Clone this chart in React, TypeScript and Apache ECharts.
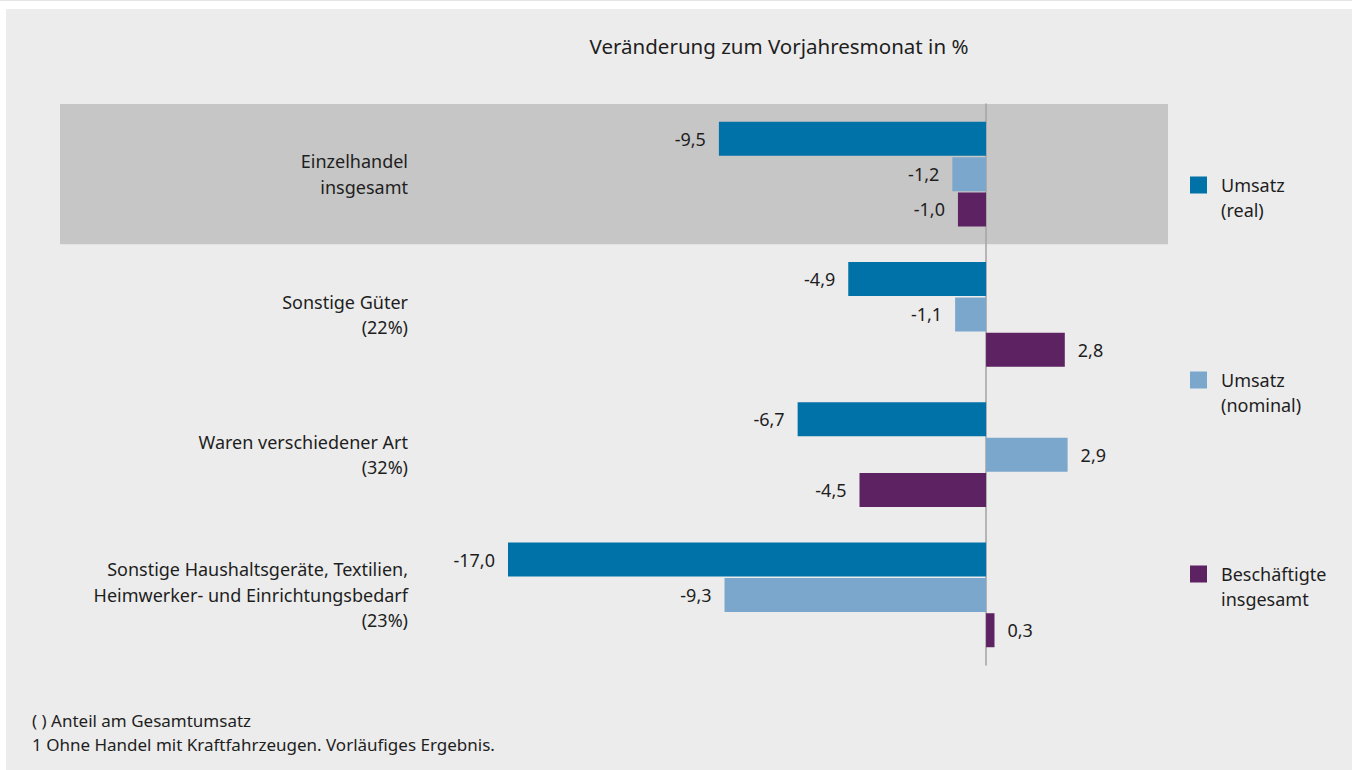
import React, { useEffect, useRef } from "react";
import * as echarts from "echarts";

const categories = [
  "Einzelhandel\ninsgesamt",
  "Sonstige Güter\n(22%)",
  "Waren verschiedener Art\n(32%)",
  "Sonstige Haushaltsgeräte, Textilien,\nHeimwerker- und Einrichtungsbedarf\n(23%)",
];
const seriesNames = ["Umsatz\n(real)", "Umsatz\n(nominal)", "Beschäftigte\ninsgesamt"];
const umsatzReal = [-9.5, -4.9, -6.7, -17.0];
const umsatzNominal = [-1.2, -1.1, 2.9, -9.3];
const beschaeftigte = [-1.0, 2.8, -4.5, 0.3];
const colors = ["#0072a7", "#7ba7cd", "#5d2262"];
const titleText = "Veränderung zum Vorjahresmonat in %";
const footnotes = ["( ) Anteil am Gesamtumsatz", "1 Ohne Handel mit Kraftfahrzeugen. Vorläufiges Ergebnis."];

const FONT = "'Noto Sans', sans-serif";
const TEXT = "#1e1e1e";

export default function App() {
  const ref = useRef<HTMLDivElement>(null);
  useEffect(() => {
    if (!ref.current) return;
    const chart = echarts.init(ref.current, undefined, { renderer: "svg" });
    const values = [umsatzReal, umsatzNominal, beschaeftigte];
    const fmt = (v: number) => v.toFixed(1).replace(".", ",");
    const series = values.map((arr, i) => ({
      name: seriesNames[i],
      type: "bar",
      barWidth: 34,
      barGap: "4%",
      itemStyle: { color: colors[i] },
      data: arr.map((v) => ({
        value: v,
        label: { position: v < 0 ? "left" : "right" },
      })),
      label: {
        show: true,
        distance: 13,
        fontFamily: FONT,
        fontSize: 18,
        color: TEXT,
        formatter: (p: any) => fmt(p.value),
      },
    }));
    const legendTops = [138.5, 333.5, 527.5];
    chart.setOption({
      animation: false,
      backgroundColor: "transparent",
      textStyle: { fontFamily: FONT },
      title: {
        text: titleText,
        left: 768,
        top: 21,
        textAlign: "center",
        textStyle: { fontFamily: FONT, fontSize: 20.5, fontWeight: "normal", color: TEXT },
      },
      legend: seriesNames.map((n, i) => ({
        data: [n],
        orient: "vertical",
        left: 1184,
        top: legendTops[i],
        padding: 0,
        itemWidth: 17,
        itemHeight: 17,
        icon: "rect",
        selectedMode: false,
        formatter: (name: string) => "\n" + name,
        textStyle: {
          fontFamily: FONT,
          fontSize: 18,
          lineHeight: 25,
          color: TEXT,
          padding: [0, 0, 0, 9],
        },
      })),
      grid: { left: 54, right: 184, top: 95, bottom: 105, outerBoundsMode: "none", containLabel: false },
      xAxis: {
        type: "value",
        min: -32.93,
        max: 6.47,
        show: false,
      },
      yAxis: {
        type: "category",
        data: categories,
        inverse: true,
        axisTick: { show: false },
        axisLine: { show: true, onZero: true, lineStyle: { color: "#a3a3a3", width: 1.5 } },
        splitLine: { show: false },
        splitArea: {
          show: true,
          areaStyle: { color: ["#c6c6c6", "rgba(0,0,0,0)", "rgba(0,0,0,0)", "rgba(0,0,0,0)"] },
        },
        axisLabel: {
          margin: -348,
          fontFamily: FONT,
          fontSize: 18,
          lineHeight: 25.5,
          color: TEXT,
          align: "right",
        },
      },
      graphic: footnotes.map((t, i) => ({
        type: "text",
        left: 26,
        top: 703 + i * 24,
        style: { text: t, fontFamily: FONT, fontSize: 17, fill: TEXT },
      })),
      series,
    });
    return () => chart.dispose();
  }, []);
  return (
    <div style={{ position: "fixed", left: 0, top: 0, width: 1352, height: 770, background: "#ffffff" }}>
      <div style={{ position: "absolute", left: 0, top: 0, width: 1352, height: 1, background: "#e4e4e4" }} />
      <div style={{ position: "absolute", left: 6, top: 9, width: 1346, height: 761, background: "#ececec" }}>
        <div ref={ref} style={{ width: 1346, height: 761 }} />
      </div>
    </div>
  );
}
